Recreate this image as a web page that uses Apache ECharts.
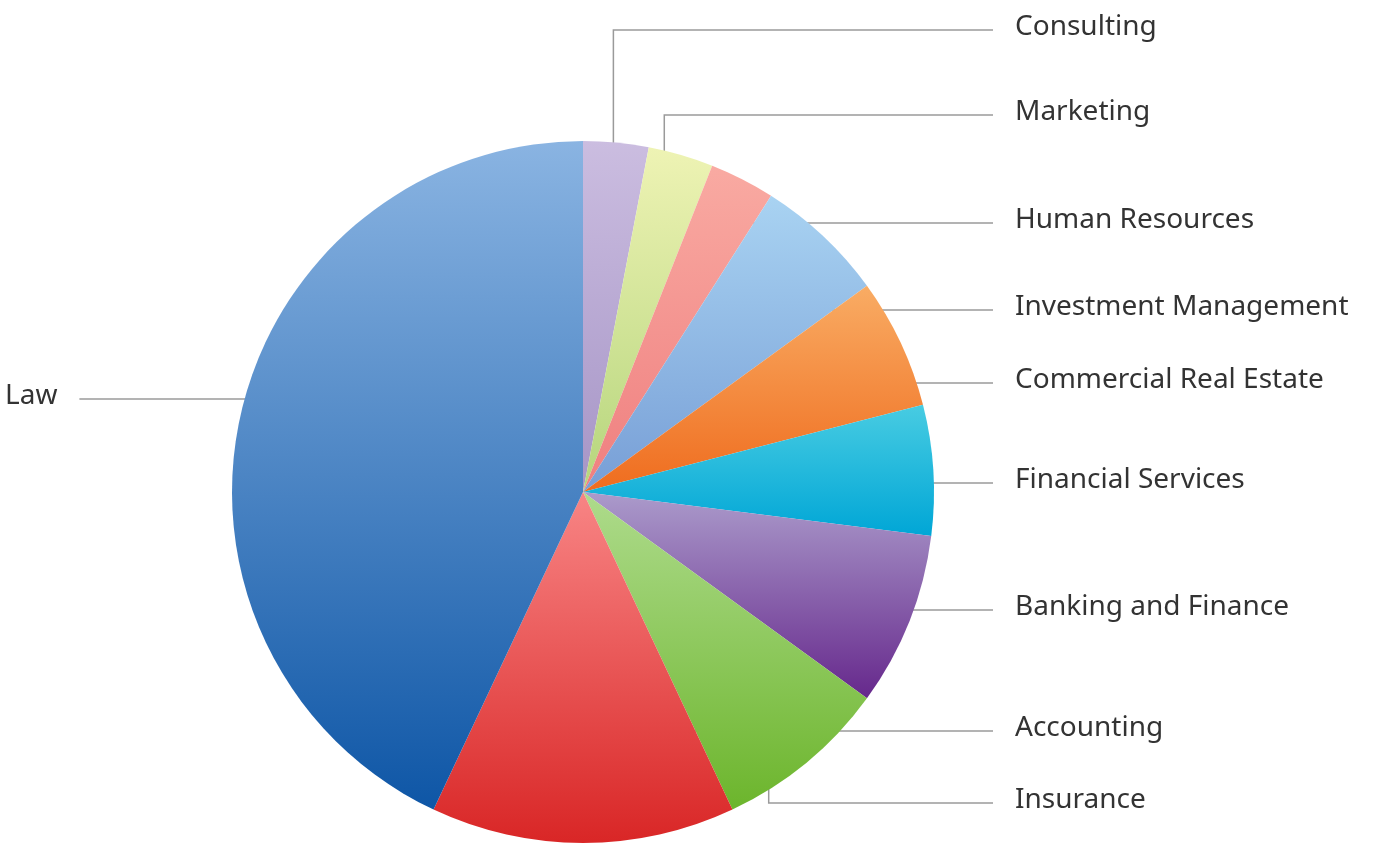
<!DOCTYPE html>
<html lang="en">
<head>
<meta charset="UTF-8">
<title>Sectors</title>
<style>
  html, body { margin: 0; padding: 0; background: #fff; }
  #chart { width: 1397px; height: 858px; }
</style>
</head>
<body>
<div id="chart"></div>
<script src="https://cdn.jsdelivr.net/npm/echarts@6/dist/echarts.min.js"></script>
<script>
// data, clockwise from 12 o'clock
var sectors = ['Consulting', 'Marketing', 'Human Resources', 'Investment Management',
  'Commercial Real Estate', 'Financial Services', 'Banking and Finance', 'Insurance',
  'Accounting', 'Law'];
var shares = [3, 3, 3, 6, 6, 6, 8, 8, 14, 43];

// colours: top / bottom of each slice gradient
var colTop = ['#cbbde0', '#eef3b4', '#f9aaa2', '#a9d3f2', '#f9ac64', '#48cce2', '#ab9bcb', '#aedb8c', '#f88585', '#8ab4e2'];
var colBot = ['#a695c6', '#b5d57c', '#ef7f7f', '#779ed6', '#ef6c1e', '#00a6d6', '#66288c', '#6cb52c', '#d92626', '#0e56a6'];

// label layout (positions only)
var cx = 583, cy = 492, R = 351;
var labelY = [27, 112, 220, 307, 380, 480, 607, 800, 728, 396];
var anchorR = [0.92, 0.83, 0.86, 0.69, 0.70, 0.82, 0.77, 0.83, 0.68, 0.66];
var elbow = [true, true, false, false, false, false, false, true, false, false];

var total = shares.reduce(function (a, b) { return a + b; }, 0);
var midAng = [];
var acc = 0;
shares.forEach(function (v) { midAng.push((acc + v / 2) / total * 2 * Math.PI); acc += v; });

var chart = echarts.init(document.getElementById('chart'));
chart.setOption({
  animation: false,
  series: [{
    type: 'pie',
    center: [cx, cy],
    radius: R,
    startAngle: 90,
    clockwise: true,
    silent: true,
    data: sectors.map(function (s, i) {
      return {
        name: s, value: shares[i],
        itemStyle: {
          color: new echarts.graphic.LinearGradient(0, 0, 0, 1, [
            { offset: 0, color: colTop[i] }, { offset: 1, color: colBot[i] }])
        }
      };
    }),
    label: {
      show: true, formatter: '{b}', color: '#333',
      fontFamily: 'Noto Sans', fontSize: 28
    },
    labelLine: { show: true, lineStyle: { color: '#9a9a9a', width: 1.5 } },
    labelLayout: function (p) {
      var i = p.dataIndex;
      var a = midAng[i];
      var ax = cx + Math.sin(a) * R * anchorR[i];
      var ay = cy - Math.cos(a) * R * anchorR[i];
      var ly = labelY[i];
      var left = ax < cx - 100;
      var w = p.labelRect.width;
      var lx = left ? 5 : 1015;
      var endX = left ? lx + w + 22 : 993;
      var pts = elbow[i] ? [[ax, ay], [ax, ly + 3], [endX, ly + 3]]
                         : [[ax, ly + 3], [endX, ly + 3]];
      if (pts.length === 2) pts.splice(1, 0, [(ax + endX) / 2, ly + 3]);
      return {
        x: lx, y: ly, align: 'left', verticalAlign: 'middle',
        labelLinePoints: pts
      };
    }
  }]
});
</script>
</body>
</html>
